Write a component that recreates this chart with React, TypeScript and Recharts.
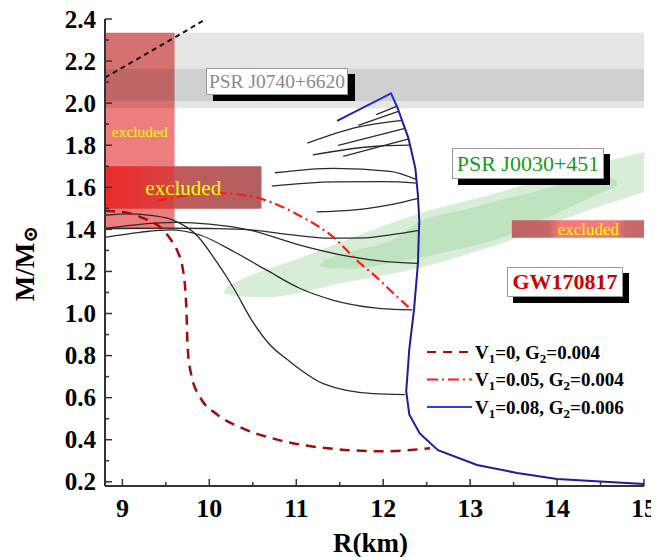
import React from 'react'
import { ComposedChart, Line, Area, XAxis, YAxis, ReferenceArea } from 'recharts'

const serif = 'Liberation Serif, DejaVu Serif, serif'
const AX = '#333'

// axis ticks
const xTicks = [9, 9.5, 10, 10.5, 11, 11.5, 12, 12.5, 13, 13.5, 14, 14.5, 15]
const xMajor = [9, 10, 11, 12, 13, 14, 15]
const yTicks = [0.2, 0.3, 0.4, 0.5, 0.6, 0.7, 0.8, 0.9, 1.0, 1.1, 1.2, 1.3, 1.4, 1.5, 1.6, 1.7, 1.8, 1.9, 2.0, 2.1, 2.2, 2.3, 2.4]
const yMajor = [0.2, 0.4, 0.6, 0.8, 1.0, 1.2, 1.4, 1.6, 1.8, 2.0, 2.2, 2.4]

// constraint regions
const j0740OuterM = [1.976, 2.335]
const j0740InnerM = [2.01, 2.162]
const exclVertR = [8.8, 9.6]
const exclVertM = [1.4, 2.335]
const exclHorzR = [8.8, 10.6]
const exclHorzM = [1.498, 1.7]
const exclRightR = [13.48, 15]
const exclRightM = [1.36, 1.443]

// PSR J0030+451 contours (lower / upper edge of mass at each radius)
const outerR = [10.17, 10.2, 10.3, 10.66, 11.04, 11.42, 12.39, 13.34, 14.49, 15.0]
const outerLo = [1.099, 1.09, 1.083, 1.077, 1.098, 1.135, 1.215, 1.33, 1.51, 1.577]
const outerHi = [1.105, 1.125, 1.148, 1.21, 1.263, 1.325, 1.472, 1.577, 1.715, 1.767]
const innerR = [11.27, 11.3, 11.39, 11.62, 12.19, 12.39, 12.96, 13.34, 13.72, 14.49, 14.63, 14.69]
const innerLo = [1.226, 1.222, 1.215, 1.213, 1.249, 1.263, 1.315, 1.358, 1.425, 1.571, 1.596, 1.612]
const innerHi = [1.23, 1.245, 1.263, 1.293, 1.368, 1.43, 1.496, 1.539, 1.577, 1.65, 1.644, 1.628]

// causality line
const causalR = [8.8, 9.586, 9.96]
const causalM = [2.122, 2.308, 2.4]

// M-R curves
const v0R = [8.8, 9.09, 9.24, 9.47, 9.55, 9.63, 9.7, 9.738, 9.75, 9.797, 9.893, 10.09, 10.35, 10.74, 11.39, 12.0, 12.54]
const v0M = [1.488, 1.476, 1.453, 1.397, 1.355, 1.3, 1.2, 1.0, 0.84, 0.7, 0.603, 0.52, 0.46, 0.405, 0.358, 0.345, 0.36]
const v05R = [9.4, 9.75, 10.1, 10.35, 10.6, 11.04, 11.42, 11.73, 11.89, 12.12, 12.33]
const v05M = [1.535, 1.562, 1.572, 1.565, 1.545, 1.465, 1.365, 1.24, 1.185, 1.095, 1.016]
const v08R = [11.47, 12.09, 12.16, 12.29, 12.37, 12.4, 12.415, 12.41, 12.4, 12.355, 12.3, 12.265, 12.3, 12.42, 12.63, 13.08, 13.54, 14.0, 15.0]
const v08M = [1.916, 2.046, 1.983, 1.834, 1.69, 1.56, 1.44, 1.38, 1.24, 1.02, 0.83, 0.63, 0.52, 0.43, 0.35, 0.28, 0.242, 0.213, 0.19]

const thinR = [
  [8.8, 9.09, 9.35, 9.59, 9.855, 10.085, 10.28, 10.5, 10.7, 10.9, 11.31, 11.886, 12.25],
  [8.8, 9.5, 10.0, 10.47, 10.93, 11.39, 11.8, 12.1, 12.4],
  [8.8, 9.2, 9.62, 10.0, 10.47, 11.04, 11.62, 12.0, 12.39],
  [8.8, 9.2, 9.55, 9.9, 10.3, 10.66, 11.04, 11.43, 11.9, 12.33],
  [11.92, 12.155],
  [11.714, 12.174],
  [11.127, 11.695, 12.215],
  [11.483, 12.25],
  [11.19, 11.886, 12.31],
  [11.54, 12.295],
  [10.755, 11.43, 12.08, 12.385],
  [10.717, 11.43, 12.0, 12.39],
  [11.235, 11.81, 12.12, 12.405],
]
const thinM = [
  [1.467, 1.474, 1.465, 1.443, 1.372, 1.245, 1.12, 0.96, 0.85, 0.78, 0.667, 0.619, 0.614],
  [1.404, 1.406, 1.404, 1.398, 1.375, 1.358, 1.36, 1.375, 1.394],
  [1.404, 1.424, 1.433, 1.425, 1.396, 1.325, 1.27, 1.248, 1.238],
  [1.362, 1.386, 1.398, 1.372, 1.29, 1.206, 1.12, 1.063, 1.027, 1.017],
  [1.945, 1.985],
  [1.894, 1.961],
  [1.81, 1.885, 1.918],
  [1.799, 1.88],
  [1.754, 1.794, 1.8],
  [1.747, 1.83],
  [1.669, 1.69, 1.676, 1.636],
  [1.606, 1.626, 1.627, 1.62],
  [1.483, 1.499, 1.52, 1.547],
]

// legend
const legendV1 = ['0', '0.05', '0.08']
const legendG2 = ['0.004', '0.004', '0.006']
const legendColor = ['#a00c0c', '#ff1a1a', '#2b40e0']
const legendDash = ['9 7', '11 4 2 4', undefined]

const pts = (r: number[], m: number[]) => r.map((x, i) => ({ x, y: m[i] }))
const band = (r: number[], lo: number[], hi: number[]) => r.map((x, i) => ({ x, range: [lo[i], hi[i]] }))

function LeftTick({ x, y, payload }: any) {
  const major = yMajor.includes(payload.value)
  return (
    <g>
      <line x1={x} y1={y} x2={x + (major ? 7 : 4)} y2={y} stroke={AX} strokeWidth={1.5} />
      {major && (
        <text x={x - 9} y={y} dy="0.34em" textAnchor="end" fontFamily={serif} fontWeight="bold" fontSize={25} fill="#000">
          {payload.value.toFixed(1)}
        </text>
      )}
    </g>
  )
}

function RightTick({ x, y, payload }: any) {
  const major = yMajor.includes(payload.value)
  return <line x1={x} y1={y} x2={x - (major ? 7 : 4)} y2={y} stroke={AX} strokeWidth={1.5} />
}

function BottomTick({ x, y, payload }: any) {
  const major = xMajor.includes(payload.value)
  return (
    <g>
      <line x1={x} y1={y} x2={x} y2={y - (major ? 7 : 4)} stroke={AX} strokeWidth={1.5} />
      {major && (
        <text x={x} y={y + 31} textAnchor="middle" fontFamily={serif} fontWeight="bold" fontSize={26} fill="#000">
          {payload.value}
        </text>
      )}
    </g>
  )
}

function TopTick({ x, y, payload }: any) {
  const major = xMajor.includes(payload.value)
  return <line x1={x} y1={y} x2={x} y2={y + (major ? 7 : 5)} stroke={AX} strokeWidth={1.5} />
}

function XTitle({ viewBox }: any) {
  return (
    <text x={viewBox.x + viewBox.width / 2 - 4} y={viewBox.y + 66} textAnchor="middle" fontFamily={serif} fontWeight="bold" fontSize={27} fill="#000">
      R(km)
    </text>
  )
}

function YTitle({ viewBox }: any) {
  const cx = viewBox.x + 17
  const cy = viewBox.y + viewBox.height / 2 + 11
  return (
    <text x={cx} y={cy} transform={`rotate(-90, ${cx}, ${cy})`} textAnchor="middle" dy="0.35em" fontFamily={serif} fontWeight="bold" fontSize={27} fill="#000">
      M/M<tspan fontSize={20} dy={3}>⊙</tspan>
    </text>
  )
}

const boxBase: React.CSSProperties = {
  position: 'absolute',
  background: '#fff',
  border: '1px solid #999',
  boxSizing: 'border-box',
  display: 'flex',
  alignItems: 'center',
  justifyContent: 'center',
  fontFamily: serif,
  whiteSpace: 'nowrap',
}

export default function App() {
  const axisLine = { stroke: AX, strokeWidth: 2 }
  return (
    <div style={{ position: 'relative', width: 650, height: 557, marginTop: -8 }}>
      <ComposedChart width={650} height={557} margin={{ top: 19, right: 14, bottom: 0, left: 0 }}>
        <defs>
          <linearGradient id="gradHorz" x1="0" y1="0" x2="1" y2="0">
            <stop offset="0" stopColor="#ec2a2a" />
            <stop offset="0.44" stopColor="#d84242" />
            <stop offset="0.445" stopColor="#bf5a5a" />
            <stop offset="1" stopColor="#b26060" />
          </linearGradient>
          <linearGradient id="gradRight" x1="0" y1="0" x2="1" y2="0">
            <stop offset="0" stopColor="#bf6262" />
            <stop offset="0.28" stopColor="#c66666" />
            <stop offset="0.36" stopColor="#f77777" />
            <stop offset="0.78" stopColor="#f77777" />
            <stop offset="0.86" stopColor="#c86a6a" />
            <stop offset="1" stopColor="#c46868" />
          </linearGradient>
          <linearGradient id="gradBlue" x1="0" y1="0" x2="0" y2="1">
            <stop offset="0" stopColor="#2236d8" />
            <stop offset="0.08" stopColor="#1c1c9a" />
            <stop offset="1" stopColor="#1c1c9a" />
          </linearGradient>
        </defs>

        <XAxis xAxisId="top" orientation="top" type="number" dataKey="x" domain={[8.8, 15]} allowDataOverflow ticks={xTicks} interval={0}
          height={0} tickSize={0} tickMargin={0} tickLine={false} axisLine={axisLine} tick={(p: any) => <TopTick {...p} />} />
        <XAxis type="number" dataKey="x" domain={[8.8, 15]} allowDataOverflow ticks={xTicks} interval={0}
          height={71} tickSize={0} tickMargin={0} tickLine={false} axisLine={axisLine} tick={(p: any) => <BottomTick {...p} />}
          label={{ content: (p: any) => <XTitle {...p} /> }} />
        <YAxis type="number" domain={[0.18, 2.4]} allowDataOverflow ticks={yTicks} interval={0}
          width={97} tickSize={0} tickMargin={0} tickLine={false} axisLine={axisLine} tick={(p: any) => <LeftTick {...p} />}
          label={{ content: (p: any) => <YTitle {...p} /> }} />
        <YAxis yAxisId="right" orientation="right" type="number" domain={[0.18, 2.4]} allowDataOverflow ticks={yTicks} interval={0}
          width={0} tickSize={0} tickMargin={0} tickLine={false} axisLine={axisLine} tick={(p: any) => <RightTick {...p} />} />

        <ReferenceArea x1={exclVertR[0]} x2={exclVertR[1]} y1={exclVertM[0]} y2={exclVertM[1]} fill="#ee7e7e" fillOpacity={1} stroke="none"
          label={{ value: 'excluded', position: 'center', fill: '#ffff00', fontSize: 15.5, fontFamily: serif }} />
        <ReferenceArea x1={8.8} x2={15} y1={j0740OuterM[0]} y2={j0740OuterM[1]} fill="#000" fillOpacity={0.1} stroke="none" />
        <ReferenceArea x1={8.8} x2={15} y1={j0740InnerM[0]} y2={j0740InnerM[1]} fill="#000" fillOpacity={0.09} stroke="none" />
        <ReferenceArea x1={exclHorzR[0]} x2={exclHorzR[1]} y1={exclHorzM[0]} y2={exclHorzM[1]} fill="url(#gradHorz)" fillOpacity={1} stroke="none"
          label={{ value: 'excluded', position: 'center', fill: '#ffff00', fontSize: 21, fontFamily: serif }} />

        <Area data={band(outerR, outerLo, outerHi)} dataKey="range" type="monotone" stroke="none" fill="#d7edd7" fillOpacity={1}
          isAnimationActive={false} dot={false} activeDot={false} legendType="none" />
        <Area data={band(innerR, innerLo, innerHi)} dataKey="range" type="monotone" stroke="none" fill="#bfe2bf" fillOpacity={1}
          isAnimationActive={false} dot={false} activeDot={false} legendType="none" />

        <ReferenceArea x1={exclRightR[0]} x2={exclRightR[1]} y1={exclRightM[0]} y2={exclRightM[1]} fill="url(#gradRight)" fillOpacity={1} stroke="none"
          label={{ value: 'excluded', position: 'insideRight', offset: 25, fill: '#ffff00', fontSize: 17, fontFamily: serif }} />

        {thinR.map((r, i) => (
          <Line key={i} data={pts(r, thinM[i])} dataKey="y" type="monotone" stroke="#2a2a2a" strokeWidth={1.3}
            dot={false} activeDot={false} isAnimationActive={false} legendType="none" />
        ))}
        <Line data={pts(causalR, causalM)} dataKey="y" type="linear" stroke="#111" strokeWidth={2} strokeDasharray="5 4"
          dot={false} activeDot={false} isAnimationActive={false} legendType="none" />
        <Line data={pts(v0R, v0M)} dataKey="y" type="monotone" stroke="#a00c0c" strokeWidth={2.5} strokeDasharray="10 7"
          dot={false} activeDot={false} isAnimationActive={false} legendType="none" />
        <Line data={pts(v05R, v05M)} dataKey="y" type="monotone" stroke="#ff1a1a" strokeWidth={2.2} strokeDasharray="10 4 2 4"
          dot={false} activeDot={false} isAnimationActive={false} legendType="none" />
        <Line data={pts(v08R, v08M)} dataKey="y" type="linear" stroke="url(#gradBlue)" strokeWidth={2}
          dot={false} activeDot={false} isAnimationActive={false} legendType="none" />
      </ComposedChart>

      <div style={{ ...boxBase, left: 198, top: 68, width: 142, height: 27, boxShadow: '7px 6px 0 #000', color: '#8a8a8a', fontSize: 19.5 }}>
        PSR J0740+6620
      </div>
      <div style={{ ...boxBase, left: 444, top: 148, width: 152, height: 31, boxShadow: '6px 6px 0 #000', color: '#169b16', fontSize: 22 }}>
        PSR J0030+451
      </div>
      <div style={{ ...boxBase, left: 499, top: 267, width: 116, height: 30, boxShadow: '6px 6px 0 #000', color: '#cc0000', fontSize: 22, fontWeight: 'bold' }}>
        GW170817
      </div>

      <svg style={{ position: 'absolute', left: 412, top: 336 }} width={220} height={90}>
        {legendV1.map((v, i) => {
          const cy = 16 + i * 27.5
          return (
            <g key={i}>
              <line x1={7} x2={52} y1={cy} y2={cy} stroke={legendColor[i]} strokeWidth={2.2} strokeDasharray={legendDash[i]} />
              <text x={55} y={cy + 6.5} fontFamily={serif} fontWeight="bold" fontSize={19} fill="#000">
                V<tspan fontSize={13} dy={4}>1</tspan><tspan dy={-4}>={v}, G</tspan><tspan fontSize={13} dy={4}>2</tspan><tspan dy={-4}>={legendG2[i]}</tspan>
              </text>
            </g>
          )
        })}
      </svg>
    </div>
  )
}
